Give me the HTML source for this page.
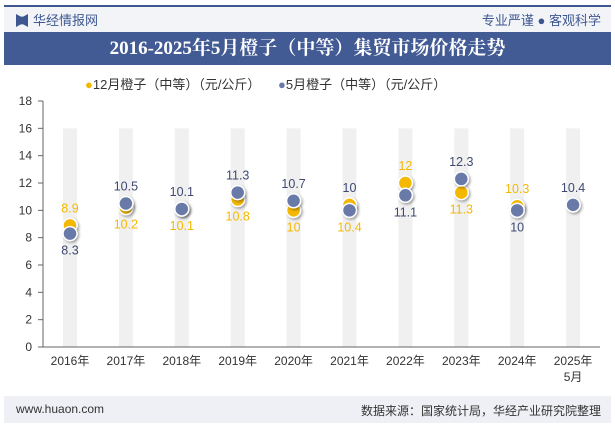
<!DOCTYPE html>
<html><head><meta charset="utf-8"><style>
body{margin:0;width:615px;height:427px;overflow:hidden;background:#fff;font-family:"Liberation Sans","Noto Sans CJK SC",sans-serif;position:relative}
.a{position:absolute}
</style></head><body>
<div class="a" style="left:4px;top:5px;width:607px;height:2px;background:#3d5890"></div>
<div class="a" style="left:4px;top:7px;width:607px;height:25px;background:#f3f4f8"></div>
<div class="a" style="left:16px;top:14px;width:12px;height:13px;background:#3d5890;clip-path:polygon(0 0,40% 20%,60% 20%,100% 0,100% 100%,60% 80%,40% 80%,0 100%)"></div>
<div class="a" style="left:33px;top:10px;font-size:13px;color:#3d5890">华经情报网</div>
<div class="a" style="right:14px;top:10px;font-size:13px;color:#3d5890">专业严谨 ● 客观科学</div>
<div class="a" style="left:4px;top:32px;width:607px;height:33px;background:#435b94;color:#fff;font-size:19px;font-weight:bold;text-align:center;line-height:33px;font-family:'Liberation Serif','Noto Serif CJK SC',serif">2016-2025年5月橙子（中等）集贸市场价格走势</div>
<div class="a" style="left:85px;top:74px;font-size:13px;color:#333"><span style="color:#f5b800">●</span>12月橙子（中等）（元/公斤）</div>
<div class="a" style="left:278px;top:74px;font-size:13px;color:#333"><span style="color:#6a7aa8">●</span>5月橙子（中等）（元/公斤）</div>
<svg class="a" style="left:0;top:0" width="615" height="427" id="chart">
<defs><filter id="sh" x="-50%" y="-50%" width="200%" height="200%"><feDropShadow dx="1.5" dy="1.5" stdDeviation="1.2" flood-color="#000" flood-opacity="0.35"/></filter></defs>
<g id="g"></g></svg>
<div class="a" style="left:4px;top:396px;width:607px;height:27px;background:#eef0f5"></div>
<div class="a" style="left:16px;top:402px;font-size:12px;color:#333">www.huaon.com</div>
<div class="a" style="right:14px;top:402px;font-size:12px;color:#333">数据来源：国家统计局，华经产业研究院整理</div>
<script>
const categories=["2016年","2017年","2018年","2019年","2020年","2021年","2022年","2023年","2024年","2025年"];
const decValues=[8.9,10.2,10.1,10.8,10,10.4,12,11.3,10.3,null];
const mayValues=[8.3,10.5,10.1,11.3,10.7,10,11.1,12.3,10,10.4];
const yTicks=[0,2,4,6,8,10,12,14,16,18];
// which series' label sits above the markers (layout choice)
const decLabelAbove=[true,false,false,false,false,false,true,false,true,false];
const NS="http://www.w3.org/2000/svg",g=document.getElementById('g');
const y=v=>347-v*(246/18), x=i=>70+i*55.9;
function mk(t,a){const e=document.createElementNS(NS,t);for(const k in a)e.setAttribute(k,a[k]);g.appendChild(e);return e;}
categories.forEach((c,i)=>{const b=mk('rect',{x:x(i)-7,y:y(16),width:14,height:y(0)-y(16),fill:'#f0f0f0'});

const t=mk('text',{x:x(i),y:365,'font-size':12,'text-anchor':'middle',fill:'#333'});t.textContent=c;
});
const t5=mk('text',{x:x(9),y:381,'font-size':12,'text-anchor':'middle',fill:'#333'});t5.textContent='5月';

const ax=mk('line',{x1:43,y1:y(18),x2:43,y2:y(0),stroke:'#666'});
const bx=mk('line',{x1:43,y1:y(0),x2:600,y2:y(0),stroke:'#666'});
yTicks.forEach(v=>{mk('line',{x1:38,y1:y(v),x2:43,y2:y(v),stroke:'#666'});
const t=mk('text',{x:32,y:y(v)+4,'font-size':12,'text-anchor':'end',fill:'#333'});t.textContent=v;
});
categories.forEach((c,i)=>{const d=decValues[i],m=mayValues[i];
if(d!=null){const p=mk('circle',{cx:x(i),cy:y(d),r:7,fill:'#f5b800',stroke:'#fff','stroke-width':1.5,filter:'url(#sh)'});
}
const q=mk('circle',{cx:x(i),cy:y(m),r:7,fill:'#6a7aa8',stroke:'#fff','stroke-width':1.5,filter:'url(#sh)'});

const dAbove=d!=null&&decLabelAbove[i];
const top=Math.min(y(m),d!=null?y(d):y(m)), bot=Math.max(y(m),d!=null?y(d):y(m));
if(d!=null){const l=mk('text',{x:x(i),y:dAbove?top-13:bot+21,'font-size':12.5,'text-anchor':'middle',fill:'#f5b800'});l.textContent=d;
}
const l2=mk('text',{x:x(i),y:!dAbove?top-13:bot+21,'font-size':12.5,'text-anchor':'middle',fill:'#3e4870'});l2.textContent=m;
});
</script>
</body></html>
